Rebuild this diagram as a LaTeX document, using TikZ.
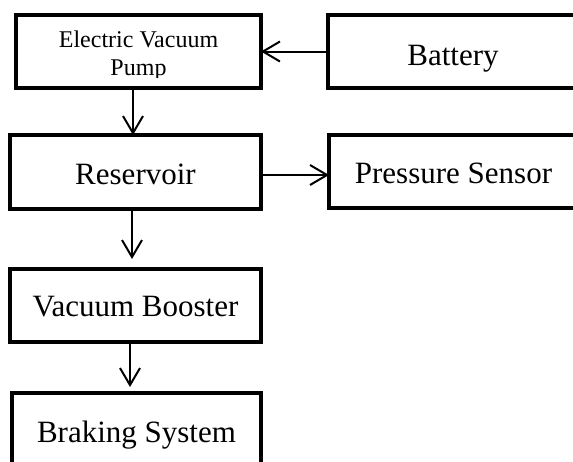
\documentclass[tikz,border=0pt]{standalone}
\usepackage{fontspec}
\setmainfont{Liberation Serif}
\usetikzlibrary{arrows.meta}
\begin{document}
\begin{tikzpicture}[x=1pt,y=-1pt,
  blk/.style={rectangle, draw, line width=4pt, inner sep=0pt, outer sep=0pt,
    minimum height=73pt, font=\fontsize{31}{36}\selectfont, text depth=0pt},
  evpbox/.style={rectangle, inner sep=0pt, outer sep=0pt, align=center,
    font=\fontsize{24}{28}\selectfont},
  border/.style={line width=4pt},
  arr/.style={line width=2pt, -{Straight Barb[length=17pt,width=20pt]}}]
\useasboundingbox (0,0) rectangle (573,461);
\clip (0,0) rectangle (573,461);
% Electric Vacuum Pump (text clipped at the bottom, as in the reference)
\begin{scope}
  \clip (0,0) rectangle (573,77.5);
  \node[evpbox, minimum width=245pt, minimum height=73pt, text height=48pt, text depth=0pt] (evp) at (138.5,51.5) {Electric Vacuum\\Pump};
\end{scope}
\draw[border] (evp.north west) rectangle (evp.south east);
\node[blk, minimum width=250pt, text height=27pt] (bat) at (453,51.5) {Battery};
\node[blk, minimum width=251pt, minimum height=74pt, text height=24pt] (res) at (135.5,172) {Reservoir};
\node[blk, minimum width=249pt, text height=23pt] (ps) at (453.5,171.5) {Pressure Sensor};
\node[blk, minimum width=251pt, text height=21pt] (vb) at (135.5,305.5) {Vacuum Booster};
\node[blk, minimum width=249pt, text height=25pt] (bs) at (136.5,429.5) {Braking System};
% connectors
\draw[arr] (bat.west) -- (evp.east);
\draw[arr] ([xshift=-5.5pt]evp.south) -- ([xshift=-2.5pt]res.north);
\draw[arr] ([yshift=-3pt]res.east) -- ([yshift=-3.5pt]ps.west);
\draw[arr] ([xshift=-3.5pt]res.south) -- ([xshift=-3.5pt,yshift=10pt]vb.north);
\draw[arr] ([xshift=-5.5pt]vb.south) -- ([xshift=-6.5pt,yshift=6pt]bs.north);
\end{tikzpicture}
\end{document}
